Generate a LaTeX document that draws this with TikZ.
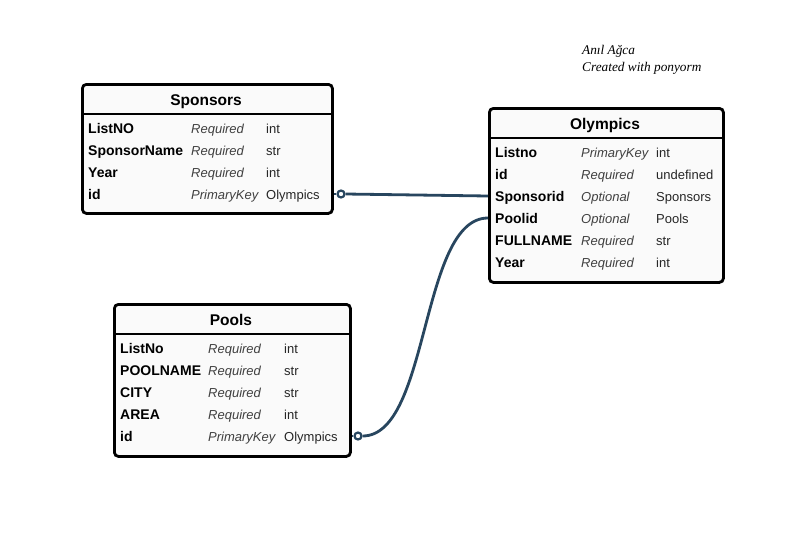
\documentclass[tikz,border=0pt]{standalone}
\usepackage{fontspec}
\setmainfont{Liberation Sans}
\newfontfamily\notefont{Liberation Serif}
\usetikzlibrary{calc}
\definecolor{conncol}{RGB}{40,70,95}
\definecolor{tblfill}{RGB}{250,250,250}
\tikzset{
  tbl/.style={draw=black, line width=2.8pt, rounded corners=4pt, fill=tblfill, anchor=north west, inner sep=0pt},
  sepline/.style={draw=black, line width=2.8pt},
  ttl/.style={font=\fontsize{15.5}{18}\selectfont\bfseries, anchor=base, inner sep=0pt},
  fname/.style={font=\fontsize{14}{16}\selectfont\bfseries, anchor=base west, inner sep=0pt},
  frole/.style={font=\fontsize{13}{15}\selectfont\itshape, text=black!75, anchor=base west, inner sep=0pt},
  ftype/.style={font=\fontsize{13}{15}\selectfont, text=black!85, anchor=base west, inner sep=0pt},
  note/.style={font=\notefont\fontsize{13.3}{15}\selectfont\itshape, anchor=base west, inner sep=0pt},
  conn/.style={draw=conncol, line width=2.8pt},
  cdot/.style={circle, draw=conncol, line width=2.2pt, fill=white, minimum size=7pt, inner sep=0pt}
}
\begin{document}
\begin{tikzpicture}[x=1pt,y=-1pt]
\useasboundingbox[fill=white] (0,0) rectangle (803,536);

% annotation
\node[note] (n1) at (582,54) {Anıl Ağca};
\node[note] (n2) at (582,71) {Created with ponyorm};

% Sponsors
\node[tbl, minimum width=250pt, minimum height=129pt] (spon) at (81,83) {};
\draw[sepline] ($(spon.north west)+(0,31)$) -- ($(spon.north east)+(0,31)$);
\node[ttl] (spont) at (206,105) {Sponsors};
\node[fname] (s1n) at (88,133) {ListNO};
\node[frole] (s1r) at (191,133) {Required};
\node[ftype] (s1t) at (266,133) {int};
\node[fname] (s2n) at (88,155) {SponsorName};
\node[frole] (s2r) at (191,155) {Required};
\node[ftype] (s2t) at (266,155) {str};
\node[fname] (s3n) at (88,177) {Year};
\node[frole] (s3r) at (191,177) {Required};
\node[ftype] (s3t) at (266,177) {int};
\node[fname] (s4n) at (88,199) {id};
\node[frole] (s4r) at (191,199) {PrimaryKey};
\node[ftype] (s4t) at (266,199) {Olympics};

% Olympics
\node[tbl, minimum width=234pt, minimum height=174pt] (oly) at (488,107) {};
\draw[sepline] ($(oly.north west)+(0,31)$) -- ($(oly.north east)+(0,31)$);
\node[ttl] (olyt) at (605,129) {Olympics};
\node[fname] (o1n) at (495,157) {Listno};
\node[frole] (o1r) at (581,157) {PrimaryKey};
\node[ftype] (o1t) at (656,157) {int};
\node[fname] (o2n) at (495,179) {id};
\node[frole] (o2r) at (581,179) {Required};
\node[ftype] (o2t) at (656,179) {undefined};
\node[fname] (o3n) at (495,201) {Sponsorid};
\node[frole] (o3r) at (581,201) {Optional};
\node[ftype] (o3t) at (656,201) {Sponsors};
\node[fname] (o4n) at (495,223) {Poolid};
\node[frole] (o4r) at (581,223) {Optional};
\node[ftype] (o4t) at (656,223) {Pools};
\node[fname] (o5n) at (495,245) {FULLNAME};
\node[frole] (o5r) at (581,245) {Required};
\node[ftype] (o5t) at (656,245) {str};
\node[fname] (o6n) at (495,267) {Year};
\node[frole] (o6r) at (581,267) {Required};
\node[ftype] (o6t) at (656,267) {int};

% Pools
\node[tbl, minimum width=236pt, minimum height=152pt] (pool) at (113,303) {};
\draw[sepline] ($(pool.north west)+(0,31)$) -- ($(pool.north east)+(0,31)$);
\node[ttl] (poolt) at (231,325) {Pools};
\node[fname] (p1n) at (120,353) {ListNo};
\node[frole] (p1r) at (208,353) {Required};
\node[ftype] (p1t) at (284,353) {int};
\node[fname] (p2n) at (120,375) {POOLNAME};
\node[frole] (p2r) at (208,375) {Required};
\node[ftype] (p2t) at (284,375) {str};
\node[fname] (p3n) at (120,397) {CITY};
\node[frole] (p3r) at (208,397) {Required};
\node[ftype] (p3t) at (284,397) {str};
\node[fname] (p4n) at (120,419) {AREA};
\node[frole] (p4r) at (208,419) {Required};
\node[ftype] (p4t) at (284,419) {int};
\node[fname] (p5n) at (120,441) {id};
\node[frole] (p5r) at (208,441) {PrimaryKey};
\node[ftype] (p5t) at (284,441) {Olympics};

% connector ends
\coordinate (sA) at (334,194);
\coordinate (oS) at (488,196);
\coordinate (pA) at (352,436);
\coordinate (oP) at (488,218);

\node[cdot] (sdot) at (341,194) {};
\node[cdot] (pdot) at (358,436) {};
\draw[conn] (sA) -- (sdot.west);
\draw[conn] (sdot.east) -- (oS);
\draw[conn] (pA) -- (pdot.west);
\draw[conn] (pdot.east) .. controls (430,436) and (420,218) .. (oP);
\end{tikzpicture}
\end{document}
